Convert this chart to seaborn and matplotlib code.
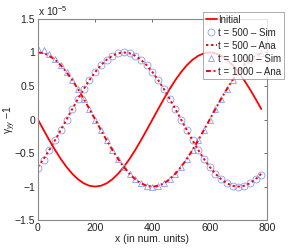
import numpy as np
import pandas as pd
import matplotlib
matplotlib.use('Agg')
import matplotlib.pyplot as plt
import seaborn as sns

# x positions (num. units), values in units of 1e-5
x_vals = [0, 20, 40, 60, 80, 100, 120, 140, 160, 180, 200, 220, 240, 260, 280, 300, 320, 340, 360, 380,
          400, 420, 440, 460, 480, 500, 520, 540, 560, 580, 600, 620, 640, 660, 680, 700, 720, 740, 760, 780]

initial = [0.0, -0.156, -0.309, -0.454, -0.588, -0.707, -0.809, -0.891, -0.951, -0.988,
           -1.0, -0.988, -0.951, -0.891, -0.809, -0.707, -0.588, -0.454, -0.309, -0.156,
           0.0, 0.156, 0.309, 0.454, 0.588, 0.707, 0.809, 0.891, 0.951, 0.988,
           1.0, 0.988, 0.951, 0.891, 0.809, 0.707, 0.588, 0.454, 0.309, 0.156]

ana_500 = [-0.707, -0.588, -0.454, -0.309, -0.156, 0.0, 0.156, 0.309, 0.454, 0.588,
           0.707, 0.809, 0.891, 0.951, 0.988, 1.0, 0.988, 0.951, 0.891, 0.809,
           0.707, 0.588, 0.454, 0.309, 0.156, 0.0, -0.156, -0.309, -0.454, -0.588,
           -0.707, -0.809, -0.891, -0.951, -0.988, -1.0, -0.988, -0.951, -0.891, -0.809]

sim_500 = [-0.72, -0.60, -0.46, -0.31, -0.16, 0.0, 0.15, 0.31, 0.45, 0.59,
           0.71, 0.81, 0.89, 0.95, 0.99, 1.0, 0.99, 0.95, 0.89, 0.81,
           0.71, 0.59, 0.45, 0.31, 0.15, 0.0, -0.16, -0.31, -0.45, -0.59,
           -0.71, -0.81, -0.89, -0.95, -0.99, -1.0, -0.99, -0.95, -0.89, -0.82]

ana_1000 = [1.0, 0.988, 0.951, 0.891, 0.809, 0.707, 0.588, 0.454, 0.309, 0.156,
            0.0, -0.156, -0.309, -0.454, -0.588, -0.707, -0.809, -0.891, -0.951, -0.988,
            -1.0, -0.988, -0.951, -0.891, -0.809, -0.707, -0.588, -0.454, -0.309, -0.156,
            0.0, 0.156, 0.309, 0.454, 0.588, 0.707, 0.809, 0.891, 0.951, 0.988]

sim_1000 = [1.05, 1.03, 0.97, 0.90, 0.81, 0.71, 0.59, 0.45, 0.31, 0.15,
            0.0, -0.16, -0.31, -0.45, -0.59, -0.71, -0.81, -0.89, -0.95, -0.99,
            -1.0, -0.99, -0.95, -0.89, -0.81, -0.71, -0.59, -0.45, -0.31, -0.16,
            0.0, 0.15, 0.31, 0.45, 0.59, 0.71, 0.81, 0.89, 0.95, 0.99]

df = pd.DataFrame({'x': x_vals, 'initial': initial, 'sim500': sim_500, 'ana500': ana_500,
                   'sim1000': sim_1000, 'ana1000': ana_1000})

sns.set_style('white')
plt.rcParams['font.family'] = ['Liberation Sans', 'DejaVu Sans']
plt.rcParams['mathtext.fontset'] = 'custom'
plt.rcParams['mathtext.rm'] = 'Liberation Sans'
plt.rcParams['mathtext.it'] = 'Liberation Sans:italic'

red = '#ff0000'
blue = '#8f98f2'

fig = plt.figure(figsize=(2.96, 2.49), dpi=100)
ax = fig.add_axes([0.128, 0.116, 0.774, 0.808])

sns.lineplot(data=df, x='x', y='initial', ax=ax, color=red, lw=1.3, label='Initial')
sns.lineplot(data=df, x='x', y='sim500', ax=ax, color=blue, linestyle='', marker='o',
             markersize=5, markerfacecolor='none', markeredgecolor=blue, markeredgewidth=0.6,
             label='t = 500 – Sim')
sns.lineplot(data=df, x='x', y='ana500', ax=ax, color=red, lw=1.4, linestyle=(0, (1.2, 1.4)),
             label='t = 500 – Ana')
sns.lineplot(data=df, x='x', y='sim1000', ax=ax, color=blue, linestyle='', marker='^',
             markersize=5, markerfacecolor='none', markeredgecolor=blue, markeredgewidth=0.6,
             label='t = 1000 – Sim')
sns.lineplot(data=df, x='x', y='ana1000', ax=ax, color=red, lw=1.4,
             linestyle=(0, (2.5, 1.4, 1.0, 1.4)), label='t = 1000 – Ana')

ax.set_xlim(0, 800)
ax.set_ylim(-1.5, 1.5)
ax.set_xticks([0, 200, 400, 600, 800])
ax.set_yticks([-1.5, -1, -0.5, 0, 0.5, 1, 1.5])
ax.set_yticklabels(['−1.5', '−1', '−0.5', '0', '0.5', '1', '1.5'])
ax.tick_params(direction='in', length=2.5, width=0.6, colors='#555555', labelcolor='#222222',
               labelsize=7.5, top=True, right=True, pad=2)
for sp in ax.spines.values():
    sp.set_color('#888888')
    sp.set_linewidth(0.8)

ax.set_xlabel('x (in num. units)', fontsize=7.5, color='#222222', labelpad=1)
ax.set_ylabel('γ$_{yy}$ −1', fontsize=7.5, color='#222222')
ax.yaxis.set_label_coords(-0.087, 0.5)
ax.text(0.0, 1.005, 'x 10$^{-5}$', transform=ax.transAxes, fontsize=7.5, color='#222222',
        ha='left', va='bottom')

ax.get_legend().remove()
handles, labels = ax.get_legend_handles_labels()
leg = fig.legend(handles, labels, loc='upper left', bbox_to_anchor=(0.686, 0.952),
                 fontsize=7, frameon=True, fancybox=False, handlelength=1.1,
                 handletextpad=0.15, borderpad=0.3, borderaxespad=0, labelspacing=0.3)
leg.get_frame().set_edgecolor('#888888')
leg.get_frame().set_linewidth(0.6)

plt.savefig('out.png', dpi=100)
plt.close()
